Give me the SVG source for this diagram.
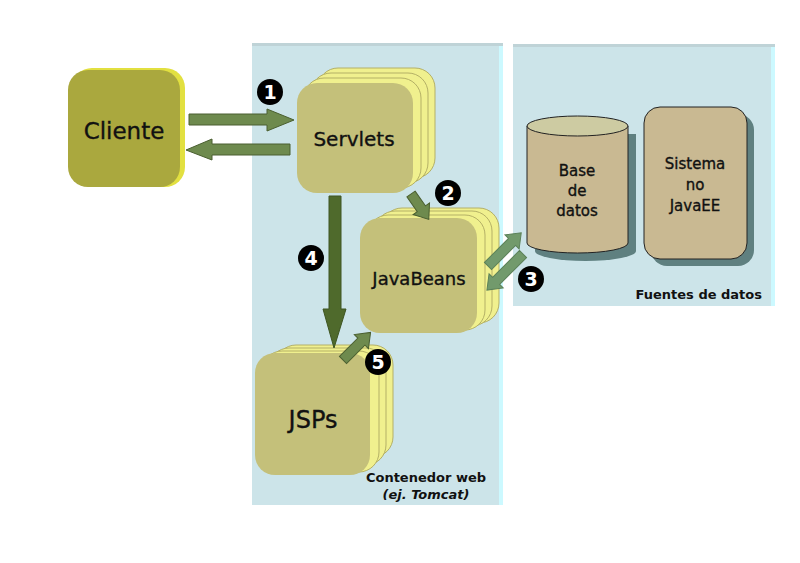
<svg xmlns="http://www.w3.org/2000/svg" width="800" height="563" viewBox="0 0 800 563">
<style>
.lbl{font-family:"DejaVu Sans","Verdana",sans-serif;fill:#111;stroke:#111;stroke-width:0.35;text-anchor:middle}
.cap{font-family:"DejaVu Sans","Verdana",sans-serif;fill:#111;font-weight:bold;font-size:13px}
.badge circle{fill:#000}
.badge text{font-family:"DejaVu Sans",sans-serif;font-weight:bold;font-size:19px;fill:#fff;text-anchor:middle}
.back{fill:#f0f08e;stroke:#b4b066;stroke-width:1}
.front{fill:#c4c07a}
.arr{fill:#6e8a4e;stroke:#4a5f30;stroke-width:1}
.arr3{fill:#729a6c;stroke:#5b8058;stroke-width:1}
</style>
<rect width="800" height="563" fill="#fff"/>
<!-- panels -->
<g id="web-container">
<rect x="252" y="43" width="251" height="462" fill="#cce4e9"/>
<rect x="252" y="43" width="251" height="3" fill="#bfd3d7"/>
<rect x="499" y="46" width="4" height="459" fill="#ccf9ff"/>
<text class="cap" x="426" y="482" text-anchor="middle">Contenedor web</text>
<text class="cap" x="426" y="499" text-anchor="middle" font-style="italic">(ej. Tomcat)</text>
</g>
<g id="data-sources">
<rect x="513" y="44" width="262" height="262" fill="#cce4e9"/>
<rect x="513" y="44" width="262" height="3" fill="#bfd3d7"/>
<rect x="771" y="47" width="4" height="259" fill="#ccf9ff"/>
<text class="cap" x="762" y="299" text-anchor="end">Fuentes de datos</text>
</g>
<!-- nodes -->
<g id="cliente">
<rect x="72" y="68" width="113" height="119" rx="20" fill="#e2e040"/>
<rect x="68" y="70" width="112" height="117" rx="20" fill="#aaa83e"/>
<text class="lbl" x="124" y="139" font-size="23">Cliente</text>
</g>
<g id="servlets">
<rect class="back" x="318" y="68" width="117" height="110" rx="20"/>
<rect class="back" x="311" y="73" width="117" height="110" rx="20"/>
<rect class="back" x="304" y="78" width="117" height="110" rx="20"/>
<rect class="front" x="297" y="83" width="116" height="110" rx="20"/>
<text class="lbl" x="354" y="146" font-size="20">Servlets</text>
</g>
<g id="javabeans">
<rect class="back" x="382" y="208" width="117" height="115" rx="20"/>
<rect class="back" x="375" y="211" width="117" height="115" rx="20"/>
<rect class="back" x="368" y="215" width="117" height="115" rx="20"/>
<rect class="front" x="360" y="218" width="117" height="115" rx="20"/>
<text class="lbl" x="419" y="285" font-size="18">JavaBeans</text>
</g>
<g id="jsps">
<rect class="back" x="276" y="345" width="117" height="112" rx="20"/>
<rect class="back" x="269" y="348" width="117" height="117" rx="20"/>
<rect class="back" x="262" y="351" width="117" height="121" rx="20"/>
<rect class="front" x="255" y="353" width="115" height="122" rx="20"/>
<text class="lbl" x="313" y="428" font-size="24">JSPs</text>
</g>
<g id="base-de-datos">
<path d="M535,134 v117 a50.5,10 0 0 0 101,0 v-117 z" fill="#5f8080"/>
<path d="M527,126 v117 a50.5,10 0 0 0 101,0 v-117 z" fill="#c9b992" stroke="#222" stroke-width="1"/>
<ellipse cx="577.5" cy="126" rx="50.5" ry="10" fill="#cdcba2" stroke="#222" stroke-width="1"/>
<text class="lbl" x="577" y="176" font-size="15">Base</text>
<text class="lbl" x="577" y="196" font-size="15">de</text>
<text class="lbl" x="577" y="216" font-size="15">datos</text>
</g>
<g id="sistema-no-javaee">
<rect x="651" y="114" width="103" height="152" rx="16" fill="#5f8080"/>
<rect x="644" y="107" width="103" height="152" rx="16" fill="#c9b992" stroke="#222" stroke-width="1"/>
<text class="lbl" x="695" y="169" font-size="15">Sistema</text>
<text class="lbl" x="695" y="190" font-size="15">no</text>
<text class="lbl" x="695" y="211" font-size="15">JavaEE</text>
</g>
<!-- connectors -->
<g id="connectors">
<path class="arr" d="M189,114 L267,114 L267,109 L294,120 L267,131 L267,125 L189,125 Z"/>
<path class="arr" d="M290,144 L212,144 L212,139 L186,150 L212,160 L212,155 L290,155 Z"/>
<path d="M329,196 L341,196 L341,309 L346,309 L334,348 L323,309 L329,309 Z" fill="#4f6a2c" stroke="#3e5522" stroke-width="1"/>
<path class="arr" transform="translate(411,194) rotate(55)" d="M0,-5 L18,-5 L18,-10 L31,0 L18,10 L18,5 L0,5 Z"/>
<path class="arr" transform="translate(343,360) rotate(-45)" d="M0,-5 L26,-5 L26,-10 L39,0 L26,10 L26,5 L0,5 Z"/>
<path class="arr3" transform="translate(488,266) rotate(-45)" d="M0,-5 L34,-5 L34,-10 L47,0 L34,10 L34,5 L0,5 Z"/>
<path class="arr3" transform="translate(523,254) rotate(135)" d="M0,-5 L38,-5 L38,-10 L51,0 L38,10 L38,5 L0,5 Z"/>
</g>
<!-- badges -->
<g class="badge" id="badge-1"><circle cx="270" cy="92" r="13"/><text x="270" y="99">1</text></g>
<g class="badge" id="badge-2"><circle cx="448" cy="193" r="13"/><text x="448" y="200">2</text></g>
<g class="badge" id="badge-3"><circle cx="531" cy="279" r="13"/><text x="531" y="286">3</text></g>
<g class="badge" id="badge-4"><circle cx="311" cy="258" r="13"/><text x="311" y="265">4</text></g>
<g class="badge" id="badge-5"><circle cx="378" cy="362" r="13"/><text x="378" y="369">5</text></g>
</svg>
